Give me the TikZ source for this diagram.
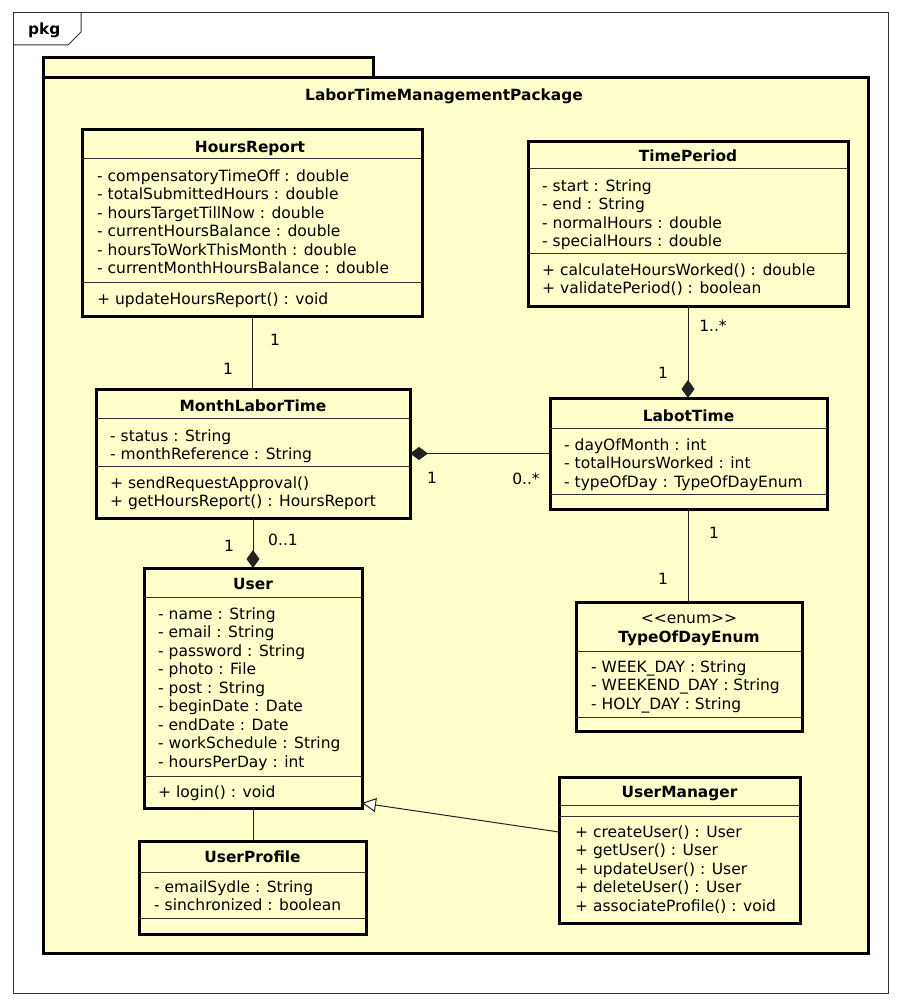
\documentclass[tikz,border=0pt]{standalone}
\usepackage{fontspec}
\usetikzlibrary{arrows.meta}
\newfontfamily\umlfont{DejaVu Sans}
\newcommand\umlr{\umlfont\fontsize{15.5}{18.5}\selectfont}
\newcommand\umlb{\umlfont\bfseries\fontsize{15.4}{18.5}\selectfont}
\definecolor{umlfill}{HTML}{FFFFCC}
\definecolor{umlline}{HTML}{222222}

% class frame: name, left, top, width, height
\newcommand\umlclass[5]{%
  \node[cls, anchor=north west, minimum width=#4pt, minimum height=#5pt] (#1) at (#2,#3) {};}

\begin{document}
\begin{tikzpicture}[x=1pt, y=-1pt,
  cls/.style={rectangle, draw=black, line width=3pt, fill=umlfill, inner sep=0pt, outer sep=0pt},
  sepline/.style={line width=0.9pt, draw=black!80},
  ttl/.style={font=\umlb, anchor=base, inner sep=0pt},
  stereo/.style={font=\umlr, anchor=base, inner sep=0pt},
  mem/.style={font=\umlr, anchor=base west, inner sep=0pt},
  mult/.style={font=\umlr, inner sep=0pt},
  assoc/.style={line width=1pt, draw=umlline},
  comp/.style={assoc, -{Diamond[length=18pt, width=13pt]}},
  rcomp/.style={assoc, {Diamond[length=18pt, width=13pt]}-},
  gen/.style={assoc, -{Triangle[length=14pt, width=14pt, fill=white]}},
  pkgline/.style={line width=3pt, draw=black, fill=umlfill}]

\useasboundingbox (0,0) rectangle (902,1006);
\fill[white] (0,0) rectangle (902,1006);

% diagram frame with its "pkg" tab
\draw[line width=1pt, draw=black!80] (13,13) rectangle (888,993);
\draw[line width=1pt, draw=black!80] (13,45) -- (68,45) -- (81,32) -- (81,13);
\node[font=\umlb, anchor=base west, inner sep=0pt] (frametitle) at (28,35) {pkg};

% package folder
\draw[pkgline] (43,58) rectangle (373,78);
\draw[pkgline] (43,78) rectangle (868,953);
\node[font=\umlb, anchor=base west, inner sep=0pt] (pkgname) at (305,101) {LaborTimeManagementPackage};

% HoursReport
\umlclass{hr}{82}{130}{340}{186}
\draw[sepline] (82,158) -- (422,158);
\draw[sepline] (82,282) -- (422,282);
\node[ttl] (hr-t) at (250,152) {HoursReport};
\node[mem] (hr-a1) at (97,181) {- compensatoryTimeOff : double};
\node[mem] (hr-a2) at (97,199.5) {- totalSubmittedHours : double};
\node[mem] (hr-a3) at (97,218) {- hoursTargetTillNow : double};
\node[mem] (hr-a4) at (97,236.5) {- currentHoursBalance : double};
\node[mem] (hr-a5) at (97,255) {- hoursToWorkThisMonth : double};
\node[mem] (hr-a6) at (97,273.5) {- currentMonthHoursBalance : double};
\node[mem] (hr-o1) at (97,304) {+ updateHoursReport() : void};

% TimePeriod
\umlclass{tp}{528}{141}{320}{165}
\draw[sepline] (528,168) -- (848,168);
\draw[sepline] (528,253) -- (848,253);
\node[ttl] (tp-t) at (688,161) {TimePeriod};
\node[mem] (tp-a1) at (542,191) {- start : String};
\node[mem] (tp-a2) at (542,209.5) {- end : String};
\node[mem] (tp-a3) at (542,228) {- normalHours : double};
\node[mem] (tp-a4) at (542,246.5) {- specialHours : double};
\node[mem] (tp-o1) at (542,275) {+ calculateHoursWorked() : double};
\node[mem] (tp-o2) at (542,293.5) {+ validatePeriod() : boolean};

% MonthLaborTime
\umlclass{mlt}{96}{389}{314}{129}
\draw[sepline] (96,418) -- (410,418);
\draw[sepline] (96,466) -- (410,466);
\node[ttl] (mlt-t) at (253,411.5) {MonthLaborTime};
\node[mem] (mlt-a1) at (110,441) {- status : String};
\node[mem] (mlt-a2) at (110,459.5) {- monthReference : String};
\node[mem] (mlt-o1) at (110,488) {+ sendRequestApproval()};
\node[mem] (mlt-o2) at (110,506.5) {+ getHoursReport() : HoursReport};

% LabotTime
\umlclass{lt}{550}{398}{277}{111}
\draw[sepline] (550,428) -- (827,428);
\draw[sepline] (550,494) -- (827,494);
\node[ttl] (lt-t) at (688.5,421) {LabotTime};
\node[mem] (lt-a1) at (564,450) {- dayOfMonth : int};
\node[mem] (lt-a2) at (564,468.5) {- totalHoursWorked : int};
\node[mem] (lt-a3) at (564,487) {- typeOfDay : TypeOfDayEnum};

% TypeOfDayEnum
\umlclass{tod}{576}{602}{226}{129}
\draw[sepline] (576,651) -- (802,651);
\draw[sepline] (576,717) -- (802,717);
\node[stereo] (tod-s) at (689,623) {<<enum>>};
\node[ttl] (tod-t) at (689,642) {TypeOfDayEnum};
\node[mem] (tod-a1) at (591,672) {- WEEK\_DAY : String};
\node[mem] (tod-a2) at (591,690.5) {- WEEKEND\_DAY : String};
\node[mem] (tod-a3) at (591,709) {- HOLY\_DAY : String};

% User
\umlclass{user}{144}{568}{218}{240}
\draw[sepline] (144,597) -- (362,597);
\draw[sepline] (144,776) -- (362,776);
\node[ttl] (user-t) at (253,589) {User};
\node[mem] (user-a1) at (158,619) {- name : String};
\node[mem] (user-a2) at (158,637.5) {- email : String};
\node[mem] (user-a3) at (158,656) {- password : String};
\node[mem] (user-a4) at (158,674.5) {- photo : File};
\node[mem] (user-a5) at (158,693) {- post : String};
\node[mem] (user-a6) at (158,711.5) {- beginDate : Date};
\node[mem] (user-a7) at (158,730) {- endDate : Date};
\node[mem] (user-a8) at (158,748.5) {- workSchedule : String};
\node[mem] (user-a9) at (158,767) {- hoursPerDay : int};
\node[mem] (user-o1) at (158,797) {+ login() : void};

% UserProfile
\umlclass{up}{139}{841}{227}{93}
\draw[sepline] (139,872) -- (366,872);
\draw[sepline] (139,918) -- (366,918);
\node[ttl] (up-t) at (252.5,862) {UserProfile};
\node[mem] (up-a1) at (154,892) {- emailSydle : String};
\node[mem] (up-a2) at (154,910.5) {- sinchronized : boolean};

% UserManager
\umlclass{um}{559}{777}{241}{146}
\draw[sepline] (559,805) -- (800,805);
\draw[sepline] (559,816) -- (800,816);
\node[ttl] (um-t) at (679.5,797) {UserManager};
\node[mem] (um-o1) at (575,837) {+ createUser() : User};
\node[mem] (um-o2) at (575,855.5) {+ getUser() : User};
\node[mem] (um-o3) at (575,874) {+ updateUser() : User};
\node[mem] (um-o4) at (575,892.5) {+ deleteUser() : User};
\node[mem] (um-o5) at (575,911) {+ associateProfile() : void};

% relationships
\draw[assoc] (hr.south) -- (hr.south |- mlt.north);
\draw[rcomp] (mlt.east) -- (lt.west);
\draw[comp] (tp.south) -- (tp.south |- lt.north);
\draw[assoc] (lt.south) -- (lt.south |- tod.north);
\draw[comp] (mlt.south) -- (mlt.south |- user.north);
\draw[assoc] (user.south) -- (user.south |- up.north);
\draw[gen] ([yshift=18pt]um.west) -- ([yshift=5pt]user.south east);

% multiplicities
\node[mult] (m-hr) at (275,340) {1};
\node[mult] (m-mlt1) at (228,369) {1};
\node[mult] (m-mlt2) at (229,546) {1};
\node[mult] (m-user) at (283,540) {0..1};
\node[mult] (m-mlt3) at (432,478) {1};
\node[mult] (m-lt1) at (526,479) {0..*};
\node[mult] (m-tp) at (713,326) {1..*};
\node[mult] (m-lt2) at (663,373) {1};
\node[mult] (m-lt3) at (714,533) {1};
\node[mult] (m-tod) at (663,579) {1};
\end{tikzpicture}
\end{document}
